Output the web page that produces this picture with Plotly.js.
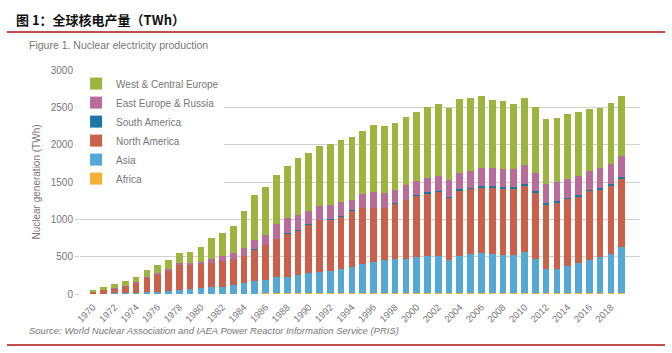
<!DOCTYPE html>
<html>
<head>
<meta charset="utf-8">
<script src="https://cdn.plot.ly/plotly-3.0.1.min.js"></script>
<style>html,body{margin:0;padding:0;background:#fff;}#chart{width:672px;height:353px;}</style>
</head>
<body>
<div id="chart"></div>
<script>
const years = [1970,1971,1972,1973,1974,1975,1976,1977,1978,1979,1980,1981,1982,1983,1984,1985,1986,1987,1988,1989,1990,1991,1992,1993,1994,1995,1996,1997,1998,1999,2000,2001,2002,2003,2004,2005,2006,2007,2008,2009,2010,2011,2012,2013,2014,2015,2016,2017,2018,2019];
const africa = [0,0,0,0,0,0,0,0,0,0,0,0,0,0,5,5,9,7,11,11,8,9,9,7,9,11,12,12,13,13,13,11,12,13,14,12,10,12,12,12,12,13,12,13,14,11,15,15,11,13];
const asia = [3,6,8,10,18,25,33,38,56,63,80,88,98,115,138,172,178,225,215,243,278,290,301,333,348,391,421,443,451,458,478,494,499,437,501,526,543,526,506,513,550,456,328,327,367,404,447,480,529,617];
const northAmerica = [24,44,63,90,130,183,219,272,330,319,318,330,339,350,361,419,465,498,580,593,642,686,685,695,760,746,715,693,740,784,827,836,852,832,868,866,872,880,888,884,888,882,858,885,886,887,912,900,903,911];
const southAmerica = [0,0,0,0,2,2,2,2,2,2,2,2,3,5,8,9,10,10,10,10,9,10,10,10,10,10,10,10,10,10,12,21,19,21,21,22,21,23,22,25,23,24,25,25,25,24,24,25,25,25];
const eastEurope = [3,5,8,10,12,18,22,27,30,35,35,44,69,75,108,118,133,197,202,207,173,190,193,192,137,177,212,190,179,195,188,193,198,224,221,224,243,246,246,240,254,241,250,245,246,259,249,267,273,277];
const westEurope = [24,41,57,62,70,93,106,123,127,150,199,281,312,372,491,600,640,657,703,764,774,801,806,829,842,852,893,906,901,914,917,947,966,968,984,970,965,913,917,876,895,895,868,860,868,850,826,808,814,811];
const seriesNames = ['Africa','Asia','North America','South America','East Europe & Russia','West & Central Europe'];
const seriesColors = ['#f2b134','#55a8d4','#c8604a','#1c76a6','#b96b99','#9db53e'];
const tickYears = [1970,1972,1974,1976,1978,1980,1982,1984,1986,1988,1990,1992,1994,1996,1998,2000,2002,2004,2006,2008,2010,2012,2014,2016,2018];

const seriesValues = [africa, asia, northAmerica, southAmerica, eastEurope, westEurope];
const traces = seriesValues.map((vals, i) => ({
  type: 'bar',
  x: years,
  y: vals,
  name: seriesNames[i],
  width: 0.62,
  marker: {color: seriesColors[i], line: {width: 0}},
  hoverinfo: 'x+y+name'
}));

// paper coords helpers: plot spans x 80..640, y 70..294
const px = x => (x - 80) / 560;
const py = y => (294 - y) / 224;

const layout = {
  width: 672, height: 353,
  margin: {l: 80, r: 32, t: 70, b: 59},
  paper_bgcolor: '#ffffff', plot_bgcolor: '#ffffff',
  barmode: 'stack',
  showlegend: true,
  font: {family: '"Liberation Sans", Arial, sans-serif', color: '#666', size: 10},
  xaxis: {
    type: 'linear',
    range: [1968.8, 2020.7],
    tickvals: tickYears,
    ticktext: tickYears.map(String),
    tickangle: -45,
    tickfont: {size: 9.5, color: '#777'},
    showgrid: false, zeroline: false, showline: false,
    ticks: 'outside', ticklen: 3, tickcolor: 'rgba(0,0,0,0)'
  },
  yaxis: {
    range: [0, 3000],
    tickvals: [0,500,1000,1500,2000,2500,3000],
    tickfont: {size: 10, color: '#777'},
    gridcolor: '#cfcfcf', gridwidth: 1,
    zeroline: false, showline: false,
    ticks: 'outside', ticklen: 4, tickcolor: '#cfcfcf',
    title: {text: 'Nuclear generation (TWh)', font: {size: 10, color: '#777'}, standoff: 8}
  },
  legend: {
    x: -0.007, y: 1.004, xanchor: 'left', yanchor: 'top',
    traceorder: 'reversed',
    bgcolor: '#ffffff',
    font: {size: 10, color: '#777'},
    itemwidth: 30,
    tracegroupgap: 0
  },
  shapes: [
    {type: 'line', xref: 'paper', yref: 'paper', x0: px(7), x1: px(665), y0: py(32), y1: py(32), line: {color: '#c0504d', width: 2}},
    {type: 'line', xref: 'paper', yref: 'paper', x0: px(7), x1: px(665), y0: py(345), y1: py(345), line: {color: '#c0504d', width: 2}}
  ],
  annotations: [
    {xref: 'paper', yref: 'paper', x: px(14), y: py(19), xanchor: 'left', yanchor: 'middle', showarrow: false,
     text: '<b>图 1：全球核电产量（TWh）</b>', font: {family: '"Noto Sans CJK SC", sans-serif', size: 13, color: '#111'}},
    {xref: 'paper', yref: 'paper', x: px(27), y: py(45), xanchor: 'left', yanchor: 'middle', showarrow: false,
     text: 'Figure 1. Nuclear electricity production', font: {size: 10.5, color: '#777'}},
    {xref: 'paper', yref: 'paper', x: px(27), y: py(330), xanchor: 'left', yanchor: 'middle', showarrow: false,
     text: '<i>Source: World Nuclear Association and IAEA Power Reactor Information Service (PRIS)</i>', font: {size: 9.5, color: '#777'}}
  ]
};

Plotly.newPlot('chart', traces, layout, {displayModeBar: false, staticPlot: true});
</script>
</body>
</html>
